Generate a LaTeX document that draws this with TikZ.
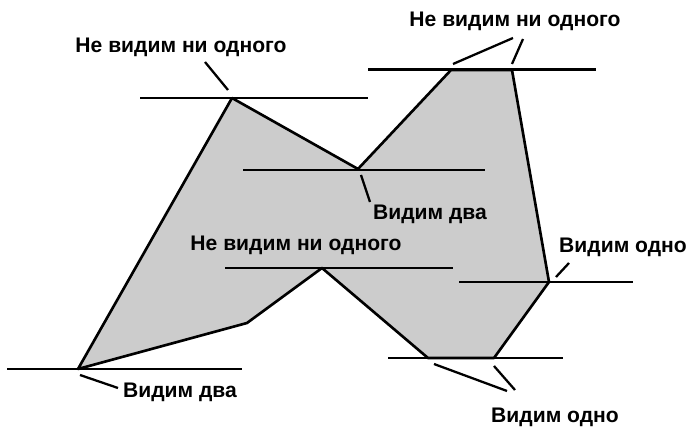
\documentclass[tikz,border=0pt]{standalone}
\usepackage{fontspec}
\setmainfont{Liberation Sans}
\usetikzlibrary{positioning}

\begin{document}
\begin{tikzpicture}[x=0.02cm, y=-0.02cm]
            \tikzset{
                sweep/.style={draw, line width=1.7pt},
                edge_line/.style={draw, line width=1.5pt, line join=round},
                leader/.style={draw, line width=1.3pt},
                caption/.style={font=\fontsize{12}{14}\selectfont\bfseries, inner sep=1pt}
            }
            \useasboundingbox (0,0) rectangle (687,445);

            % vertices of the polygon
            \coordinate (A) at (232,98);
            \coordinate (B) at (358,169);
            \coordinate (C) at (451,70);
            \coordinate (D) at (512,70);
            \coordinate (E) at (549,282);
            \coordinate (F) at (494,358);
            \coordinate (G) at (428,358);
            \coordinate (H) at (322,268);
            \coordinate (I) at (247,323);
            \coordinate (J) at (78,369);

            \path[fill=black!20] (A) -- (B) -- (C) -- (D) -- (E) -- (F) -- (G) -- (H) -- (I) -- (J) -- cycle;

            % sweep lines
            \path[sweep] (140,98) -- (368,98);
            \path[sweep] (243,170) -- (485,170);
            \path[sweep] (368,70) -- (596,70);
            \path[sweep] (225,268) -- (453,268);
            \path[sweep] (459,282) -- (633,282);
            \path[sweep] (388,358) -- (563,358);
            \path[sweep] (7,369) -- (242,369);

            \path[edge_line] (A) -- (B) -- (C) -- (D) -- (E) -- (F) -- (G) -- (H) -- (I) -- (J) -- cycle;

            % labels
            \node[caption] (t1) at (181,47) {Не видим ни одного};
            \node[caption] (t2) at (515,21) {Не видим ни одного};
            \node[caption] (t3) at (430,214) {Видим два};
            \node[caption] (t4) at (296,245) {Не видим ни одного};
            \node[caption] (t5) at (623,247) {Видим одно};
            \node[caption] (t6) at (180,392) {Видим два};
            \node[caption] (t7) at (555,417) {Видим одно};

            \coordinate (p1) at (205,62);  \coordinate (q1) at (228,90);
            \coordinate (p2) at (513,38);  \coordinate (q2) at (453,64);
            \coordinate (p3) at (523,39);  \coordinate (q3) at (512,64);
            \coordinate (p4) at (370,202); \coordinate (q4) at (361,175);
            \coordinate (p5) at (569,263); \coordinate (q5) at (556,277);
            \coordinate (p6) at (118,388); \coordinate (q6) at (80,375);
            \coordinate (p7) at (507,391); \coordinate (q7) at (434,364);
            \coordinate (p8) at (515,390); \coordinate (q8) at (494,366);

            \path[leader] (p1) -- (q1);
            \path[leader] (p2) -- (q2);
            \path[leader] (p3) -- (q3);
            \path[leader] (p4) -- (q4);
            \path[leader] (p5) -- (q5);
            \path[leader] (p6) -- (q6);
            \path[leader] (p7) -- (q7);
            \path[leader] (p8) -- (q8);
\end{tikzpicture}
\end{document}
